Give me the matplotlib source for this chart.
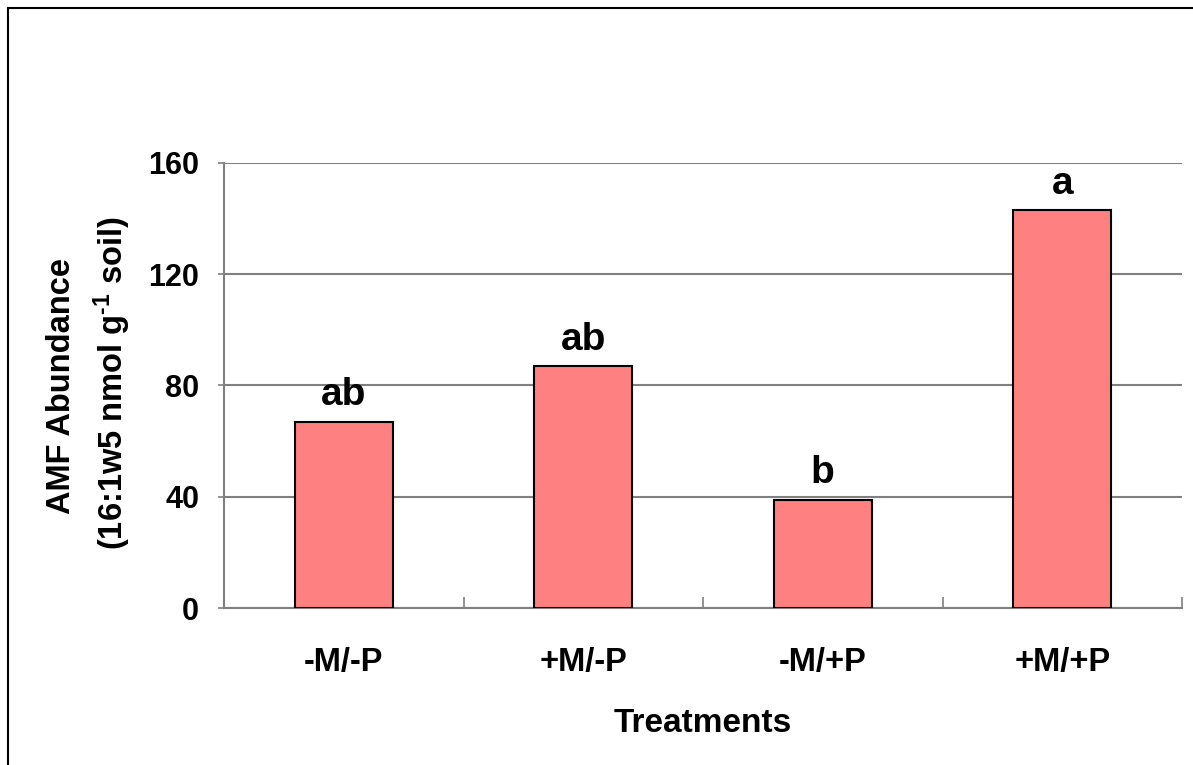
import matplotlib
matplotlib.use("Agg")
import matplotlib.pyplot as plt
from matplotlib.patches import Rectangle

categories = ["-M/-P", "+M/-P", "-M/+P", "+M/+P"]
values = [67, 87, 39, 143]
letters = ["ab", "ab", "b", "a"]
yticks = [0, 40, 80, 120, 160]

plt.rcParams['font.family'] = ['Liberation Sans', 'DejaVu Sans']
plt.rcParams['font.weight'] = 'bold'
plt.rcParams['mathtext.fontset'] = 'custom'
plt.rcParams['mathtext.rm'] = 'Liberation Sans:bold'
plt.rcParams['mathtext.bf'] = 'Liberation Sans:bold'
plt.rcParams['mathtext.default'] = 'bf'

W, H = 1193, 765
fig = plt.figure(figsize=(W/100, H/100), dpi=100)
# outer frame
fig.patches.append(Rectangle((8/W, -0.1), 1.2, (H-8)/H + 0.1, transform=fig.transFigure,
                             fill=False, edgecolor='black', linewidth=1.5))

left, right, top, bottom = 224, 1182, 163, 608
ax = fig.add_axes([left/W, 1-bottom/H, (right-left)/W, (bottom-top)/H])

x = list(range(len(categories)))
ax.bar(x, values, width=0.41, color='#FF8080', edgecolor='black', linewidth=1.5, zorder=3)
ax.set_xlim(-0.5, len(categories)-0.5)
ax.set_ylim(0, 160)
ax.set_yticks(yticks)
ax.set_yticklabels([str(t) for t in yticks], fontsize=22, fontweight='bold')
ax.yaxis.grid(True, color='#808080', linewidth=1.5, zorder=0)
ax.set_axisbelow(True)

ax.set_xticks(x)
ax.set_xticklabels(categories, fontsize=23.5, fontweight='bold')
ax.tick_params(axis='x', length=0, pad=28)
ax.set_xticks([i - 0.5 for i in range(len(categories)+1)], minor=True)
ax.tick_params(axis='x', which='minor', length=8, direction='in', color='#808080', width=1.2)
ax.tick_params(axis='y', length=4, direction='out', color='#808080', width=1.2, pad=14)

for s in ['top', 'right']:
    ax.spines[s].set_visible(False)
for s in ['left', 'bottom']:
    ax.spines[s].set_color('#808080')
    ax.spines[s].set_linewidth(1.5)

for xi, v, l in zip(x, values, letters):
    ax.annotate(l, (xi, v), xytext=(0, 6), textcoords='offset points',
                ha='center', va='bottom', fontsize=28, fontweight='bold')

ax.set_xlabel("Treatments", fontsize=24, fontweight='bold', labelpad=22)
fig.text(62/W, 1-386/H, "AMF Abundance", rotation=90, ha='center', va='center',
         fontsize=23.5, fontweight='bold')
fig.text(112/W, 1-383/H, r"(16:1w5 nmol g$^{\text{-1}}$ soil)", rotation=90, ha='center', va='center',
         fontsize=23.5, fontweight='bold')

fig.savefig("out.png", dpi=100)
